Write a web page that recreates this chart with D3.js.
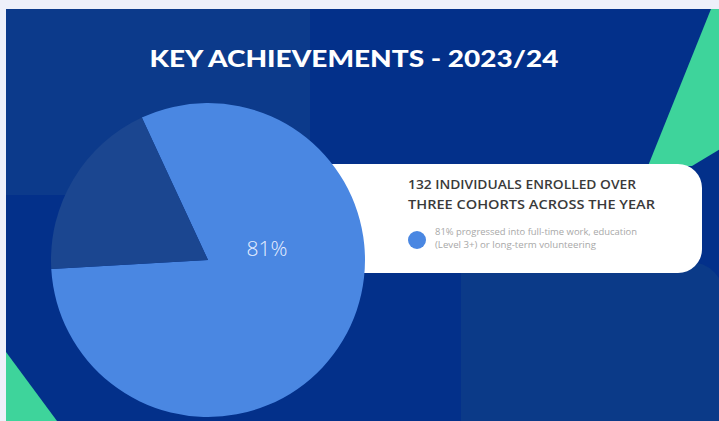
<!DOCTYPE html>
<html>
<head>
<meta charset="utf-8">
<script src="https://cdn.jsdelivr.net/npm/d3@7"></script>
<style>
  body { margin: 0; background: #eef0fa; }
  svg { display: block; }
</style>
</head>
<body>
<svg id="chart" width="719" height="421"></svg>
<script>
// chart values
const categories = ["Progressed", "Other"];
const values = [81, 19];
const sliceColors = ["#4a87e2", "#1b4690"];
const title = "KEY ACHIEVEMENTS - 2023/24";
const headline = ["132 INDIVIDUALS ENROLLED OVER", "THREE COHORTS ACROSS THE YEAR"];
const legendLines = ["81% progressed into full-time work, education", "(Level 3+) or long-term volunteering"];

window.addEventListener("load", main);

function main() {
    var svg = d3.select("#chart");

    // background card and panels
    svg.append("rect")
        .attr("x", 6).attr("y", 9)
        .attr("width", 720).attr("height", 420)
        .style("fill", "#03308a");
    svg.append("rect")
        .attr("x", 6).attr("y", 9)
        .attr("width", 304).attr("height", 186)
        .style("fill", "#0c3a8b");
    // lower right panel, only its top-right corner is rounded
    var p = d3.path();
    p.moveTo(461, 262);
    p.lineTo(690, 262);
    p.arcTo(724, 262, 724, 296, 34);
    p.lineTo(724, 421);
    p.lineTo(461, 421);
    p.closePath();
    svg.append("path")
        .attr("d", p.toString())
        .style("fill", "#0b3a88");
    svg.append("polygon")
        .attr("points", "711,9 725,9 725,146 692,166 648,166")
        .style("fill", "#3ed49b");
    svg.append("polygon")
        .attr("points", "6,352 6,421 57,421")
        .style("fill", "#3ed49b");

    // white info box (left part sits behind the pie)
    svg.append("rect")
        .attr("x", 250).attr("y", 164)
        .attr("width", 452).attr("height", 109)
        .attr("rx", 24)
        .style("fill", "#ffffff");

    // title
    svg.append("text")
        .attr("x", 354).attr("y", 67)
        .attr("text-anchor", "middle")
        .attr("textLength", 409)
        .attr("lengthAdjust", "spacingAndGlyphs")
        .style("font-family", "Lato, sans-serif")
        .style("font-weight", 900)
        .style("font-size", "22px")
        .style("fill", "#ffffff")
        .text(title);

    // pie
    var cx = 208, cy = 260, r = 157;
    var pie = d3.pie()
        .sort(null)
        .startAngle(-0.435)
        .endAngle(-0.435 + 2 * Math.PI);
    var arc = d3.arc().innerRadius(0).outerRadius(r);
    var color = d3.scaleOrdinal().domain(categories).range(sliceColors);

    var g = svg.append("g").attr("transform", "translate(" + cx + "," + cy + ")");
    var arcs = pie(values);
    g.selectAll("path")
        .data(arcs)
        .enter()
        .append("path")
        .attr("d", arc)
        .style("fill", function(d, i) { return color(categories[i]); });

    // label on the big slice
    svg.append("text")
        .attr("x", 267).attr("y", 256)
        .attr("text-anchor", "middle")
        .style("font-family", "'Open Sans', sans-serif")
        .style("font-weight", 300)
        .style("font-size", "21px")
        .style("fill", "#e6eeff")
        .text(values[0] + "%");

    // headline in the box
    svg.selectAll("text.headline")
        .data(headline)
        .enter()
        .append("text")
        .attr("class", "headline")
        .attr("x", 408)
        .attr("y", function(d, i) { return 189 + i * 20; })
        .attr("textLength", function(d, i) { return i === 0 ? 228 : 247; })
        .attr("lengthAdjust", "spacingAndGlyphs")
        .style("font-family", "'Open Sans', sans-serif")
        .style("font-weight", 600)
        .style("font-size", "12.5px")
        .style("fill", "#3a3a3a")
        .text(function(d) { return d; });

    // legend
    svg.append("circle")
        .attr("cx", 417).attr("cy", 240)
        .attr("r", 9)
        .style("fill", color(categories[0]));
    svg.selectAll("text.legend")
        .data(legendLines)
        .enter()
        .append("text")
        .attr("class", "legend")
        .attr("x", 435)
        .attr("y", function(d, i) { return 235 + i * 13; })
        .attr("textLength", function(d, i) { return i === 0 ? 202 : 161; })
        .attr("lengthAdjust", "spacingAndGlyphs")
        .style("font-family", "'Open Sans', sans-serif")
        .style("font-size", "8.5px")
        .style("fill", "#a8a8a8")
        .text(function(d) { return d; });
}
</script>
</body>
</html>
